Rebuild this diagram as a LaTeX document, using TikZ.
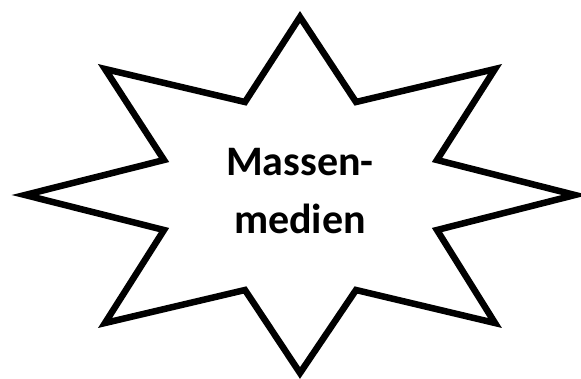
\documentclass[tikz,border=0pt]{standalone}
\usepackage{fontspec}
\setmainfont{Carlito}
\begin{document}
\begin{tikzpicture}[
  x=1pt, y=-1pt,
  burst/.style={draw=black, fill=white, line width=6.5pt, line join=miter},
  lbl/.style={font=\bfseries\fontsize{42}{58}\selectfont, align=center}
]
\useasboundingbox (0,0) rectangle (581,378);

% ---- eight-pointed star ----
\draw[burst] (300,17) -- (356,102) -- (495,69) -- (437,160) -- (575,195)
  -- (437,230) -- (495,323) -- (356,290) -- (300,373) -- (245,290)
  -- (105,323) -- (164,230) -- (25,195) -- (164,160) -- (105,69)
  -- (245,102) -- cycle;

% ---- label ----
\node[lbl] (massen) at (300,191) {Massen-\\medien};

\end{tikzpicture}
\end{document}
